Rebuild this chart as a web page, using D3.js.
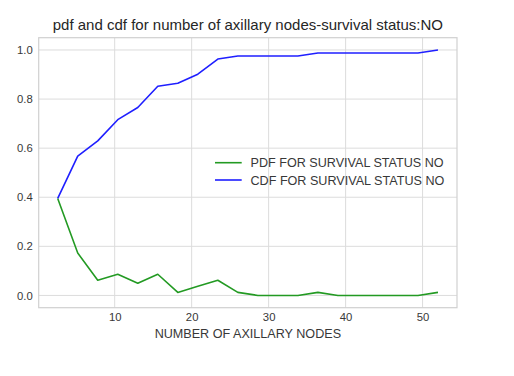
<!DOCTYPE html>
<html><head><meta charset="utf-8">
<script src="https://cdn.jsdelivr.net/npm/d3@7"></script>
<style>body{margin:0;background:#fff;} text{font-family:"Liberation Sans",Arial,sans-serif;}</style>
</head><body>
<svg id="c" width="514" height="376"></svg>
<script>
const binEdges = [2.6,5.2,7.8,10.4,13,15.6,18.2,20.8,23.4,26,28.6,31.2,33.8,36.4,39,41.6,44.2,46.8,49.4,52];
const pdfValues = [0.3951,0.1728,0.0617,0.0864,0.0494,0.0864,0.0123,0.0370,0.0617,0.0123,0,0,0,0.0123,0,0,0,0,0,0.0123];
const cdfValues = [0.3951,0.5679,0.6296,0.7160,0.7654,0.8519,0.8642,0.9012,0.9630,0.9753,0.9753,0.9753,0.9753,0.9877,0.9877,0.9877,0.9877,0.9877,0.9877,1.0];
const xTicks = [10,20,30,40,50];
const yTicks = [0.0,0.2,0.4,0.6,0.8,1.0];
const seriesNames = ["PDF FOR SURVIVAL STATUS NO","CDF FOR SURVIVAL STATUS NO"];
const titleText = "pdf and cdf for number of axillary nodes-survival status:NO";
const xLabel = "NUMBER OF AXILLARY NODES";

const L=38.7, R=457, T=37.7, B=307.7;
const svg = d3.select("#c");
const x = d3.scaleLinear().domain([0.13,54.47]).range([L,R]);
const y = d3.scaleLinear().domain([-0.05,1.05]).range([B,T]);
const grid="#dcdcdc", txt="#383838";

const g = svg.append("g");
xTicks.forEach(t=>g.append("line").attr("x1",x(t)).attr("x2",x(t)).attr("y1",T).attr("y2",B).attr("stroke",grid).attr("stroke-width",1));
yTicks.forEach(t=>g.append("line").attr("x1",L).attr("x2",R).attr("y1",y(t)).attr("y2",y(t)).attr("stroke",grid).attr("stroke-width",1));
g.append("rect").attr("x",L).attr("y",T).attr("width",R-L).attr("height",B-T).attr("fill","none").attr("stroke","#d0d0d0").attr("stroke-width",1.2);

const xAxis = d3.axisBottom(x).tickValues(xTicks).tickFormat(d3.format("d")).tickSize(0).tickPadding(5);
const ax = svg.append("g").attr("transform",`translate(0,${B})`).call(xAxis);
ax.select(".domain").remove();
ax.selectAll("text").attr("fill",txt).style("font-size","11.3px");
const yAxis = d3.axisLeft(y).tickValues(yTicks).tickFormat(d3.format(".1f")).tickSize(0).tickPadding(6);
const ay = svg.append("g").attr("transform",`translate(${L},0)`).call(yAxis);
ay.select(".domain").remove();
ay.selectAll("text").attr("fill",txt).style("font-size","11.3px");

const line = d3.line().x((d,i)=>x(binEdges[i])).y(d=>y(d));
const colors = ["#239a23","#1f1fff"];
[pdfValues,cdfValues].forEach((s,k)=>{
  svg.append("path").attr("d",line(s)).attr("fill","none").attr("stroke",colors[k]).attr("stroke-width",1.6).attr("stroke-linejoin","round");
});

seriesNames.forEach((n,k)=>{
  const yy = 162.7 + k*17.3;
  svg.append("line").attr("x1",215).attr("x2",241.7).attr("y1",yy).attr("y2",yy).attr("stroke",colors[k]).attr("stroke-width",1.6);
  svg.append("text").attr("x",250.5).attr("y",yy+4.5).attr("fill",txt).style("font-size","12.6px").text(n);
});

svg.append("text").attr("x",(L+R)/2).attr("y",29.5).attr("text-anchor","middle").attr("fill","#262626").style("font-size","15px").text(titleText);
svg.append("text").attr("x",(L+R)/2).attr("y",338).attr("text-anchor","middle").attr("fill",txt).style("font-size","12.6px").text(xLabel);
</script>
</body></html>
